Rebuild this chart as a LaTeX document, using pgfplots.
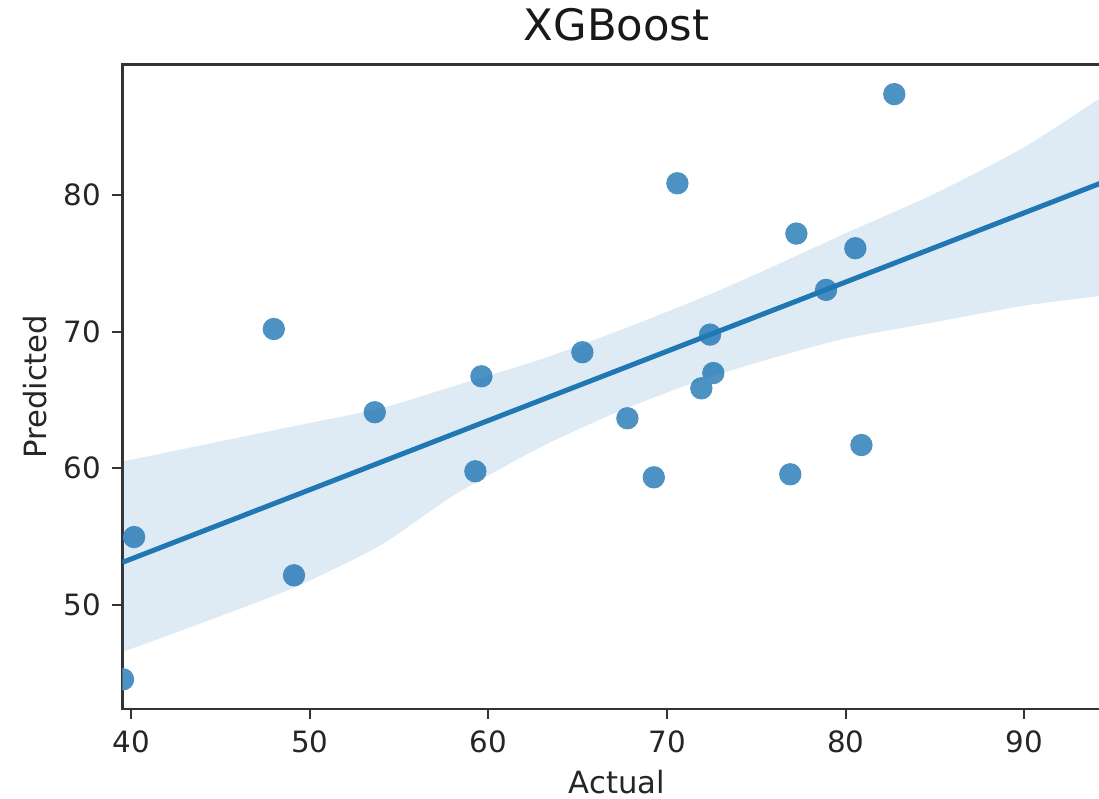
\documentclass[border=0pt]{standalone}
\usepackage{fontspec}
\setmainfont{DejaVu Sans}
\usepackage{pgfplots}
\pgfplotsset{compat=1.18}
\definecolor{sbblue}{HTML}{1F77B4}
\definecolor{markblue}{RGB}{76,146,195}
\definecolor{spine}{RGB}{51,51,51}

\begin{document}
\begin{tikzpicture}
\begin{axis}[
  scale only axis,
  width=296.55pt, height=193.35pt,
  xmin=39.52, xmax=94.85,
  ymin=42.39, ymax=89.54,
  xtick={40,50,60,70,80,90}, ytick={50,60,70,80},
  tick pos=left,
  tick align=outside, major tick length=3pt,
  axis line style={spine, line width=0.75pt},
  tick style={spine, line width=0.6pt},
  /pgf/number format/assume math mode=true,
  ticklabel style={font=\fontsize{8.8}{11}\selectfont, text=black!85},
  label style={font=\fontsize{9.2}{11}\selectfont, text=black!85},
  xlabel={Actual}, ylabel={Predicted},
  xlabel style={yshift=1.8pt},
  ylabel style={yshift=-1.8pt},
  title={XGBoost},
  title style={font=\fontsize{13}{15}\selectfont, text=black!90, yshift=-2.4pt},
  clip marker paths=true,
]
% scatter: actual vs predicted
\addplot[color=markblue, only marks, mark=*, mark size=3.15pt,
  mark options={draw=markblue, fill=markblue}]
  coordinates {
  (82.72,87.37) (70.58,80.85) (77.24,77.17) (80.54,76.10) (78.90,73.05)
  (72.41,69.78) (72.59,66.97) (71.92,65.85) (67.78,63.66) (80.88,61.70)
  (69.26,59.34) (76.90,59.56) (59.61,66.73) (65.26,68.49) (59.27,59.78)
  (47.99,70.19) (40.17,54.97) (49.12,52.17) (39.55,44.56) (53.64,64.10)
  };
% confidence band (ends run past the axis so the turns are clipped)
\addplot[draw=none, fill=sbblue, fill opacity=0.15, smooth, tension=0.4]
  coordinates {
  (37.5,60.0) (39.52,60.50) (44,61.7) (49.18,63.1) (54,64.4) (58.03,66.0)
  (63,68.0) (67.37,70.1) (72,72.5) (76,74.8) (80,77.2) (85,80.1) (90,83.5)
  (94.85,87.6) (97,89.5)
  (97,73.05) (94.85,72.7) (90,71.9) (85,70.7) (80,69.5) (76,68.1) (72,66.5)
  (67.37,64.2) (63,61.6) (58.03,58.0) (54,54.4) (49.18,51.3) (44,48.7)
  (39.52,46.56) (37.5,45.5)
  } -- cycle;
% regression line
\addplot[sbblue, line width=1.5pt] coordinates {(39.52,53.12) (94.85,81.15)};
\coordinate (sw) at (rel axis cs:0,0);
\coordinate (nw) at (rel axis cs:0,1);
\end{axis}
\pgfresetboundingbox
\path[use as bounding box] ([shift={(-36.75pt,-26.7pt)}]sw) rectangle ([shift={(292.95pt,19.35pt)}]nw);
\end{tikzpicture}
\end{document}
